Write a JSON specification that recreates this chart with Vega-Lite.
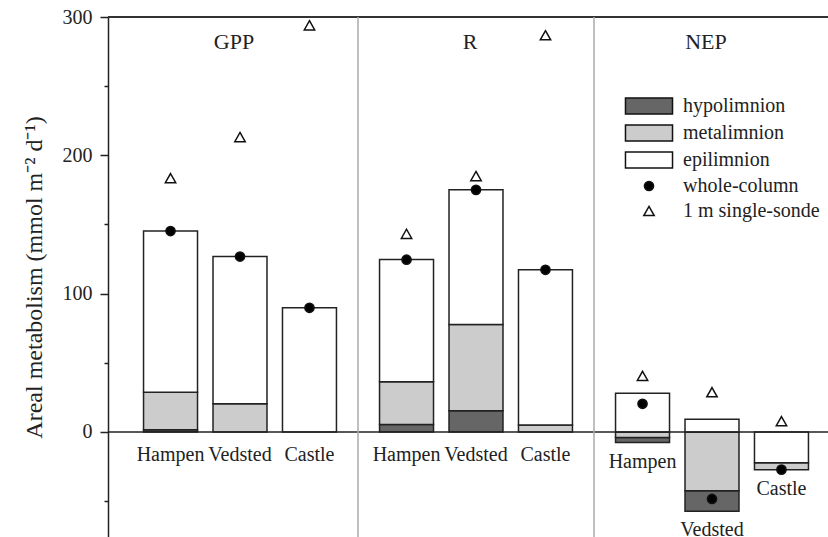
{
  "$schema": "https://vega.github.io/schema/vega-lite/v6.json",
  "width": 720,
  "height": 520,
  "autosize": {"type": "none"},
  "padding": {"left": 108, "top": 17, "right": 0, "bottom": 0},
  "background": "white",
  "config": {
    "view": {"stroke": null},
    "font": "Liberation Serif",
    "text": {"font": "Liberation Serif", "fontSize": 20, "color": "#222"}
  },
  "datasets": {
    "layers": [
      {"panel": "GPP", "lake": "Hampen", "series": "hypolimnion", "value": 1.5},
      {"panel": "GPP", "lake": "Hampen", "series": "metalimnion", "value": 27.2},
      {"panel": "GPP", "lake": "Hampen", "series": "epilimnion", "value": 116.5},
      {"panel": "GPP", "lake": "Vedsted", "series": "metalimnion", "value": 20.3},
      {"panel": "GPP", "lake": "Vedsted", "series": "epilimnion", "value": 106.5},
      {"panel": "GPP", "lake": "Castle", "series": "epilimnion", "value": 89.7},
      {"panel": "R", "lake": "Hampen", "series": "hypolimnion", "value": 5.3},
      {"panel": "R", "lake": "Hampen", "series": "metalimnion", "value": 30.9},
      {"panel": "R", "lake": "Hampen", "series": "epilimnion", "value": 88.5},
      {"panel": "R", "lake": "Vedsted", "series": "hypolimnion", "value": 15.2},
      {"panel": "R", "lake": "Vedsted", "series": "metalimnion", "value": 62.4},
      {"panel": "R", "lake": "Vedsted", "series": "epilimnion", "value": 97.5},
      {"panel": "R", "lake": "Castle", "series": "metalimnion", "value": 5.0},
      {"panel": "R", "lake": "Castle", "series": "epilimnion", "value": 112.2},
      {"panel": "NEP", "lake": "Hampen", "series": "hypolimnion", "value": -3.6},
      {"panel": "NEP", "lake": "Hampen", "series": "metalimnion", "value": -4.1},
      {"panel": "NEP", "lake": "Hampen", "series": "epilimnion", "value": 27.9},
      {"panel": "NEP", "lake": "Vedsted", "series": "hypolimnion", "value": -14.9},
      {"panel": "NEP", "lake": "Vedsted", "series": "metalimnion", "value": -42.5},
      {"panel": "NEP", "lake": "Vedsted", "series": "epilimnion", "value": 9.1},
      {"panel": "NEP", "lake": "Castle", "series": "metalimnion", "value": -4.9},
      {"panel": "NEP", "lake": "Castle", "series": "epilimnion", "value": -22.4}
    ],
    "points": [
      {"panel": "GPP", "lake": "Hampen", "series": "whole-column", "value": 145.2},
      {"panel": "GPP", "lake": "Vedsted", "series": "whole-column", "value": 126.8},
      {"panel": "GPP", "lake": "Castle", "series": "whole-column", "value": 89.7},
      {"panel": "R", "lake": "Hampen", "series": "whole-column", "value": 124.5},
      {"panel": "R", "lake": "Vedsted", "series": "whole-column", "value": 175.0},
      {"panel": "R", "lake": "Castle", "series": "whole-column", "value": 117.2},
      {"panel": "NEP", "lake": "Hampen", "series": "whole-column", "value": 20.3},
      {"panel": "NEP", "lake": "Vedsted", "series": "whole-column", "value": -48.5},
      {"panel": "NEP", "lake": "Castle", "series": "whole-column", "value": -27.3},
      {"panel": "GPP", "lake": "Hampen", "series": "1 m single-sonde", "value": 183.5},
      {"panel": "GPP", "lake": "Vedsted", "series": "1 m single-sonde", "value": 213.2},
      {"panel": "GPP", "lake": "Castle", "series": "1 m single-sonde", "value": 294.0},
      {"panel": "R", "lake": "Hampen", "series": "1 m single-sonde", "value": 143.2},
      {"panel": "R", "lake": "Vedsted", "series": "1 m single-sonde", "value": 185.0},
      {"panel": "R", "lake": "Castle", "series": "1 m single-sonde", "value": 286.8},
      {"panel": "NEP", "lake": "Hampen", "series": "1 m single-sonde", "value": 40.5},
      {"panel": "NEP", "lake": "Vedsted", "series": "1 m single-sonde", "value": 28.7},
      {"panel": "NEP", "lake": "Castle", "series": "1 m single-sonde", "value": 7.8}
    ],
    "panels": [{"panel": "GPP"}, {"panel": "R"}, {"panel": "NEP"}]
  },
  "layer": [
    {
      "data": {"name": "layers"},
      "mark": {"type": "bar", "stroke": "#222", "strokeWidth": 1.5},
      "encoding": {
        "x": {"field": "panel", "type": "nominal", "axis": null,
              "scale": {"domain": ["GPP", "R", "NEP"], "range": [14, 722], "paddingInner": 0, "paddingOuter": 0}},
        "xOffset": {"field": "lake", "type": "nominal",
              "scale": {"domain": ["Hampen", "Vedsted", "Castle"], "paddingInner": 0.223, "paddingOuter": 0.31}},
        "y": {"field": "value", "type": "quantitative", "stack": "zero",
              "scale": {"domain": [-76, 300], "nice": false, "zero": false},
              "axis": {
                "title": "Areal metabolism (mmol m⁻² d⁻¹)",
                "values": [-50, 0, 50, 100, 150, 200, 250, 300],
                "labelExpr": "datum.value % 100 === 0 ? datum.label : ''",
                "grid": false,
                "domainColor": "#222", "domainWidth": 1.5,
                "tickColor": "#222", "tickWidth": 1.5,
                "tickSize": {"condition": {"test": "datum.value % 100 === 0", "value": 8}, "value": 4},
                "labelFont": "Liberation Serif", "labelFontSize": 20, "labelColor": "#222",
                "labelPadding": 8,
                "titleFont": "Liberation Serif", "titleFontSize": 24, "titleFontWeight": "normal", "titleColor": "#222",
                "titlePadding": 16
              }},
        "fill": {"field": "series", "type": "nominal",
                 "scale": {"domain": ["hypolimnion", "metalimnion", "epilimnion", "whole-column", "1 m single-sonde"],
                           "range": ["#666666", "#cccccc", "#ffffff", "#000000", "#ffffff"]},
                 "legend": {
                   "title": null, "orient": "none", "legendX": 531, "legendY": 79,
                   "padding": 0, "labelFont": "Liberation Serif", "labelFontSize": 20, "labelColor": "#222",
                   "symbolStrokeColor": "#222", "symbolStrokeWidth": 1.5, "symbolSize": 256,
                   "symbolOpacity": 1, "labelOffset": 24, "rowPadding": 5, "labelLimit": 300
                 }},
        "order": {"field": "value", "type": "quantitative"}
      }
    },
    {
      "data": {"name": "points"},
      "mark": {"type": "point", "filled": true, "stroke": "#111", "strokeWidth": 1.5, "size": 256, "opacity": 1},
      "encoding": {
        "x": {"field": "panel", "type": "nominal"},
        "xOffset": {"field": "lake", "type": "nominal"},
        "y": {"field": "value", "type": "quantitative"},
        "fill": {"field": "series", "type": "nominal"},
        "shape": {"field": "series", "type": "nominal",
                  "scale": {"domain": ["hypolimnion", "metalimnion", "epilimnion", "whole-column", "1 m single-sonde"],
                            "range": ["M-2.94,-1H2.94V1H-2.94Z", "M-2.94,-1H2.94V1H-2.94Z", "M-2.94,-1H2.94V1H-2.94Z",
                                      "M-0.575,0A0.575,0.575 0 1,0 0.575,0A0.575,0.575 0 1,0 -0.575,0Z",
                                      "M0,-0.575L0.65,0.575L-0.65,0.575Z"]},
                  "legend": {"title": null}}
      }
    },
    {
      "data": {"values": [{}]},
      "mark": {"type": "rule", "color": "#222", "strokeWidth": 1.5},
      "encoding": {"y": {"datum": 0}}
    },
    {
      "data": {"values": [{}]},
      "mark": {"type": "rule", "color": "#333", "strokeWidth": 2},
      "encoding": {"y": {"datum": 300}}
    },
    {
      "data": {"values": [{"panel": "R"}, {"panel": "NEP"}]},
      "mark": {"type": "rule", "color": "#aaaaaa", "strokeWidth": 1.5},
      "encoding": {"x": {"field": "panel", "type": "nominal", "bandPosition": 0}}
    },
    {
      "data": {"name": "panels"},
      "mark": {"type": "text", "baseline": "middle", "fontSize": 22, "dx": -6},
      "encoding": {
        "x": {"field": "panel", "type": "nominal"},
        "y": {"datum": 282},
        "text": {"field": "panel"}
      }
    },
    {
      "data": {"name": "layers"},
      "transform": [
        {"filter": "datum.panel !== 'NEP'"},
        {"aggregate": [{"op": "count", "as": "n"}], "groupby": ["panel", "lake"]}
      ],
      "mark": {"type": "text", "baseline": "middle", "dy": 23},
      "encoding": {
        "x": {"field": "panel", "type": "nominal"},
        "xOffset": {"field": "lake", "type": "nominal"},
        "y": {"datum": 0},
        "text": {"field": "lake"}
      }
    },
    {
      "data": {"name": "layers"},
      "transform": [
        {"filter": "datum.panel === 'NEP' && datum.value < 0"},
        {"aggregate": [{"op": "sum", "field": "value", "as": "low"}], "groupby": ["panel", "lake"]}
      ],
      "mark": {"type": "text", "baseline": "middle", "dy": 19},
      "encoding": {
        "x": {"field": "panel", "type": "nominal"},
        "xOffset": {"field": "lake", "type": "nominal"},
        "y": {"field": "low", "type": "quantitative"},
        "text": {"field": "lake"}
      }
    }
  ]
}
